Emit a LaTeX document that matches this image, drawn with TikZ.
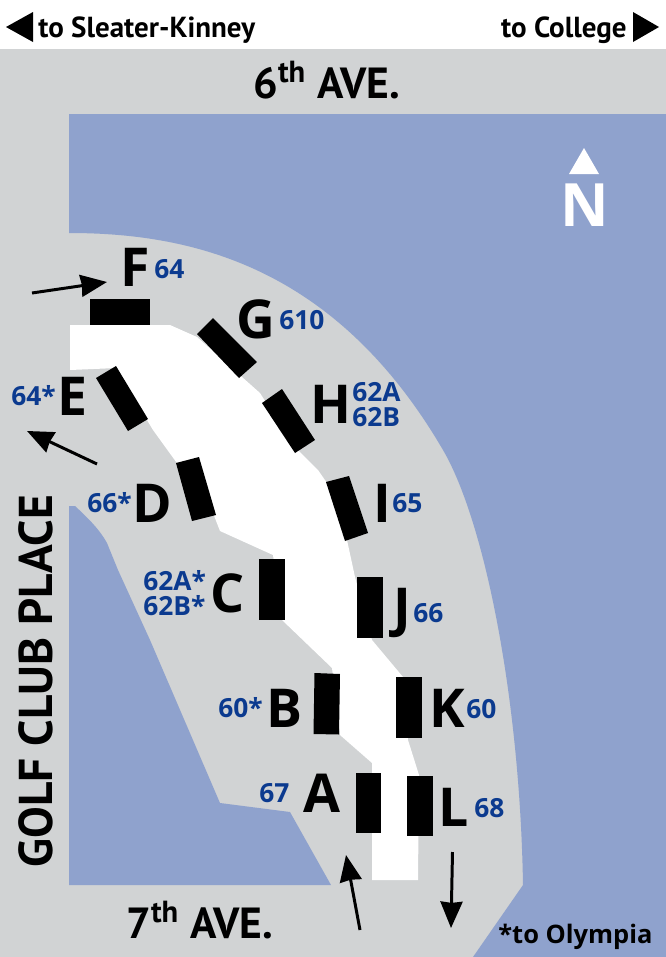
\documentclass[tikz,border=0pt]{standalone}
\usepackage{fontspec}
\usepackage{xcolor}
\usepackage{tikz}
\usetikzlibrary{arrows.meta}
\setmainfont{PT Sans}
\newfontfamily\heavyfont{Open Sans}
\definecolor{street}{HTML}{D1D3D4}
\definecolor{lawn}{HTML}{8FA2CD}
\definecolor{routeblue}{HTML}{0B3A8F}
\tikzset{
    bay/.style={fill=black},
    bayletter/.style={anchor=base west, inner sep=0pt, font=\heavyfont\fontsize{30.5}{30.5}\selectfont\bfseries},
    routenum/.style={anchor=base west, inner sep=0pt, text=routeblue, font=\heavyfont\fontsize{15}{15}\selectfont\bfseries},
    avenue/.style={anchor=base west, inner sep=0pt, font=\fontsize{24.8}{24.8}\selectfont\bfseries},
    heading/.style={inner sep=0pt, font=\fontsize{16.5}{16.5}\selectfont\bfseries},
    walkway/.style={line width=1.7pt, -{Stealth[length=15pt, width=12.5pt, inset=0.7pt]}}
}
\begin{document}
\begin{tikzpicture}[x=0.02cm, y=-0.02cm]
    \useasboundingbox (0,0) rectangle (666,957);

    % Page and streets
    \fill[white] (0,0) rectangle (666,957);
    \fill[street] (0,49) rectangle (666,957);

    % Lawn on the east side
    \fill[lawn] (69,114) -- (666,114) -- (666,957) -- (473,957) -- (523,885)
        .. controls (520,700) and (485,522) .. (443,450)
        .. controls (335,265) and (190,233) .. (69,233) -- cycle;

    % Lawn on the west side
    \fill[lawn] (69,506) -- (75,506) .. controls (88,518) and (100,530) .. (107,543)
        -- (118,570) -- (150,640) -- (220,803) -- (290,812) -- (331,885) -- (69,885) -- cycle;

    % Bus lane
    \fill[white] (70,325) -- (170,325) -- (197,337) -- (242,377) -- (260,393) -- (293,445)
        -- (318,470) -- (327,483) -- (347,540) -- (355,577) -- (372,640) -- (403,677)
        -- (408,740) -- (419,775) -- (418,880) -- (372,880) -- (372,763) -- (340,735)
        -- (332,668) -- (282,620) -- (273,555) -- (220,531) -- (213,513) -- (153,430)
        -- (147,420) -- (117,368) -- (70,370) -- cycle;

    % Bays
    \fill[bay] (90,299) rectangle (150,325);
    \fill[bay] (213,318) -- (257,362) -- (239,378) -- (197,334) -- cycle;
    \fill[bay] (282,389) -- (315,440) -- (295,453) -- (262,403) -- cycle;
    \fill[bay] (116,366) -- (148,419) -- (128,431) -- (96,378) -- cycle;
    \fill[bay] (199,457) -- (216,515) -- (192,521) -- (176,463) -- cycle;
    \fill[bay] (349,476) -- (368,533) -- (345,541) -- (326,482) -- cycle;
    \fill[bay] (357,577) rectangle (383,638);
    \fill[bay] (259,559) rectangle (285,620);
    \fill[bay] (314.5,673) -- (340,674) -- (339,734.5) -- (313.5,734) -- cycle;
    \fill[bay] (396,677) rectangle (422,738);
    \fill[bay] (355.5,773) rectangle (381,833);
    \fill[bay] (407,776) rectangle (432.5,836);

    % Bay letters
    \node[bayletter] (bayA) at (303,812) {A};
    \node[bayletter] (bayB) at (266,727) {B};
    \node[bayletter] (bayC) at (210,612) {C};
    \node[bayletter] (bayD) at (132,522) {D};
    \node[bayletter] (bayE) at (57,415) {E};
    \node[bayletter] (bayF) at (120,286) {F};
    \node[bayletter] (bayG) at (236,338) {G};
    \node[bayletter] (bayH) at (310,423) {H};
    \node[bayletter] (bayI) at (373,522) {I};
    \node[bayletter] (bayJ) at (393,626) {J};
    \node[bayletter] (bayK) at (429,727) {K};
    \node[bayletter] (bayL) at (438,826) {L};

    % Route numbers
    \node[routenum] (numA) at (259,802) {67};
    \node[routenum] (numB) at (218,717) {60*};
    \node[routenum] (numCa) at (143,590) {62A*};
    \node[routenum] (numCb) at (143,615) {62B*};
    \node[routenum] (numD) at (87,512) {66*};
    \node[routenum] (numE) at (11,405) {64*};
    \node[routenum] (numF) at (154,278) {64};
    \node[routenum] (numG) at (279,329) {610};
    \node[routenum] (numHa) at (352,401) {62A};
    \node[routenum] (numHb) at (352,426) {62B};
    \node[routenum] (numI) at (392,512) {65};
    \node[routenum] (numJ) at (413,622) {66};
    \node[routenum] (numK) at (466,718) {60};
    \node[routenum] (numL) at (474,817) {68};

    % Street names
    \node[avenue] (sixth) at (253,98) {6\textsuperscript{th} AVE.};
    \node[avenue] (seventh) at (126,938) {7\textsuperscript{th} AVE.};
    \node[avenue, rotate=90, font=\fontsize{27}{27}\selectfont\bfseries] (golf) at (52,868) {GOLF CLUB PLACE};

    % Directions on top
    \fill (6,27) -- (33,12) -- (33,42) -- cycle;
    \fill (659,27) -- (633,12) -- (633,42) -- cycle;
    \node[heading, anchor=base west] (sleater) at (38,37) {to Sleater-Kinney};
    \node[heading, anchor=base east] (college) at (627,37) {to College};
    \node[heading, anchor=base west, font=\heavyfont\fontsize{14.5}{14.5}\selectfont\bfseries] (olympia) at (498,943) {*to Olympia};

    % North
    \fill[white] (584,148) -- (599,174) -- (569,174) -- cycle;
    \node[anchor=base, inner sep=0pt, text=white, font=\heavyfont\fontsize{34}{34}\selectfont\bfseries] (north) at (585,226) {N};

    % Walking arrows
    \coordinate (fromF) at (32,293);
    \coordinate (toF) at (107,282);
    \coordinate (fromE) at (97,464);
    \coordinate (toE) at (27,431);
    \coordinate (fromA) at (360,930);
    \coordinate (toA) at (346,855);
    \coordinate (fromL) at (452.5,852);
    \coordinate (toL) at (451,928);
    \draw[walkway] (fromF) -- (toF);
    \draw[walkway] (fromE) -- (toE);
    \draw[walkway] (fromA) -- (toA);
    \draw[walkway] (fromL) -- (toL);
\end{tikzpicture}
\end{document}
